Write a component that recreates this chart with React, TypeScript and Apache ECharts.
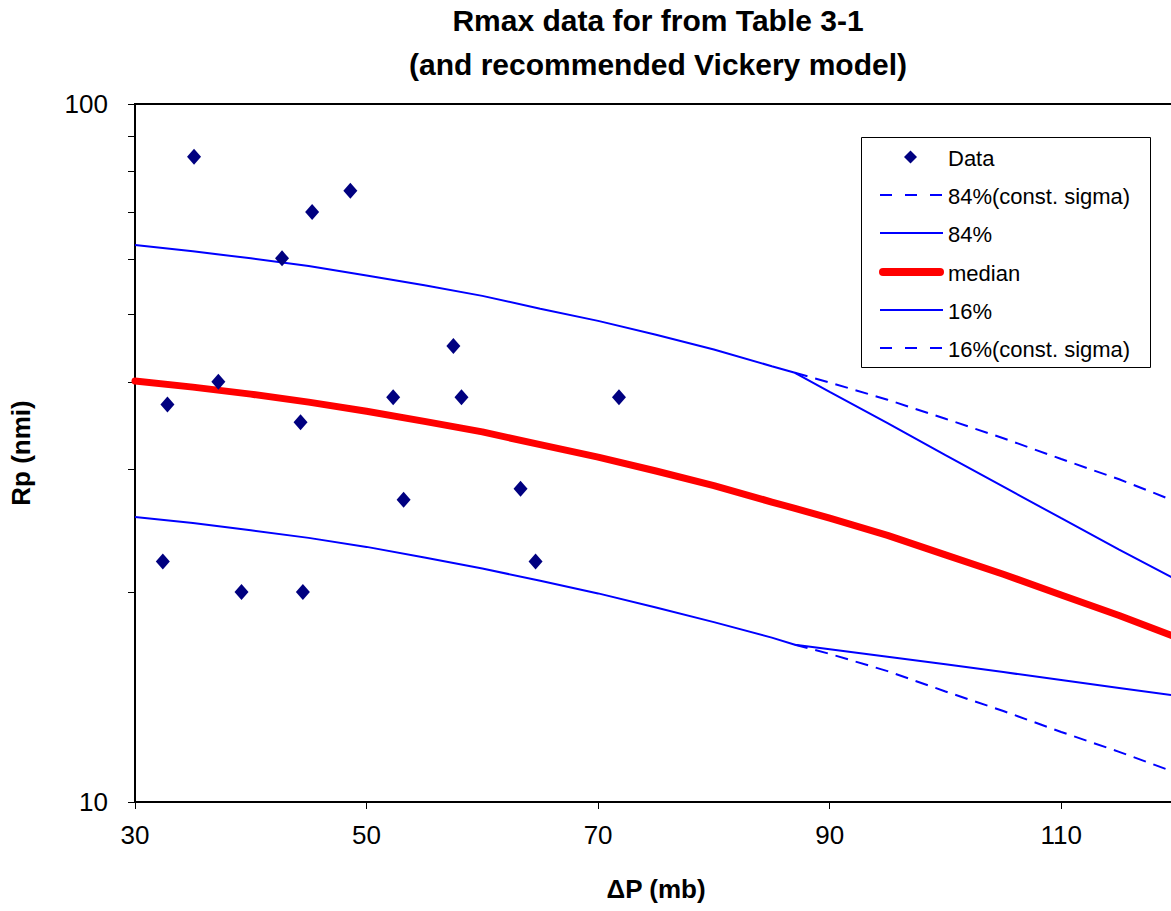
import React, { useEffect, useRef } from "react";
import * as echarts from "echarts";

const dataPoints: [number, number][] = [
  [35.1, 84.0], [48.6, 75.1], [45.3, 70.0], [42.7, 60.1], [57.5, 45.0],
  [37.2, 40.0], [32.8, 37.1], [52.3, 38.0], [58.2, 38.0], [71.8, 38.0],
  [44.3, 35.0], [53.2, 27.1], [63.3, 28.1], [32.4, 22.1], [64.6, 22.1],
  [39.2, 20.0], [44.5, 20.0],
];

const dpMain = [30, 35, 40, 45, 50, 55, 60, 65, 70, 75, 80, 85, 87, 90, 95, 100, 105, 110, 115, 120];
const median = [40.1, 39.3, 38.4, 37.4, 36.3, 35.1, 33.9, 32.5, 31.2, 29.8, 28.4, 26.9, 26.35, 25.5, 24.1, 22.6, 21.2, 19.8, 18.5, 17.2];
const upper84 = [62.8, 61.5, 60.1, 58.6, 56.8, 55.0, 53.1, 50.9, 48.9, 46.7, 44.5, 42.1, 41.2, 38.7, 34.9, 31.4, 28.3, 25.5, 23.0, 20.8];
const lower16 = [25.6, 25.1, 24.5, 23.9, 23.2, 22.4, 21.6, 20.75, 19.9, 19.0, 18.1, 17.2, 16.8, 16.55, 16.15, 15.75, 15.35, 14.95, 14.57, 14.2];

const dpConst = [87, 90, 95, 100, 105, 110, 115, 120];
const upper84Const = [41.2, 39.9, 37.7, 35.4, 33.2, 31.0, 29.0, 26.9];
const lower16Const = [16.8, 16.3, 15.4, 14.4, 13.5, 12.6, 11.8, 11.0];

const xTicks = [30, 50, 70, 90, 110];
const yLabels = [10, 100];
const yTicks = [10, 20, 30, 40, 50, 60, 70, 80, 90, 100];

const legendNames = ["Data", "84%(const. sigma)", "84%", "median", "16%", "16%(const. sigma)"];

const FONT = "'Liberation Sans', Arial, sans-serif";
const BLUE = "#0000FF";
const RED = "#FF0000";
const NAVY = "#000080";

const zip = (xs: number[], ys: number[]) => xs.map((x, i) => [x, ys[i]]);

function legendGraphics() {
  const left = 861, top = 137, w = 289, h = 230;
  const x0 = 880, x1 = 943, tx = 948;
  const rowY = (i: number) => 157 + i * 38.2;
  const els: any[] = [
    { type: "rect", shape: { x: left + 0.5, y: top + 0.5, width: w, height: h }, style: { fill: "#fff", stroke: "#000", lineWidth: 1 }, z: 100 },
  ];
  legendNames.forEach((name, i) => {
    const y = Math.round(rowY(i));
    if (i === 0) {
      const cx = (x0 + x1) / 2 - 1;
      els.push({
        type: "polygon",
        shape: { points: [[cx, y - 6.5], [cx + 6.5, y], [cx, y + 6.5], [cx - 6.5, y]] },
        style: { fill: NAVY },
        z: 101,
      });
    } else {
      const dashed = name.includes("const");
      const isMedian = name === "median";
      els.push({
        type: "line",
        shape: { x1: isMedian ? x0 + 3 : x0, y1: y, x2: isMedian ? x1 - 3 : x1, y2: y },
        style: {
          stroke: isMedian ? RED : BLUE,
          lineWidth: isMedian ? 8 : 2,
          lineDash: dashed ? [12, 13] : null,
          lineCap: isMedian ? "round" : "butt",
        },
        z: 101,
      });
    }
    els.push({
      type: "text",
      x: tx,
      y: y + 1,
      style: { text: name, fontFamily: FONT, fontSize: 22, fill: "#000", verticalAlign: "middle", align: "left" },
      z: 101,
    });
  });
  return els;
}

export default function App() {
  const ref = useRef<HTMLDivElement>(null);
  useEffect(() => {
    if (!ref.current) return;
    const chart = echarts.init(ref.current, undefined, { renderer: "svg" });
    chart.setOption({
      animation: false,
      backgroundColor: "#fff",
      title: {
        text: "Rmax data for from Table 3-1\n(and recommended Vickery model)",
        left: 653,
        top: -7,
        textAlign: "center",
        textStyle: { fontFamily: FONT, fontSize: 30, fontWeight: "bold", lineHeight: 44, color: "#000" },
      },
      graphic: legendGraphics(),
      grid: {
        left: 134,
        right: 23,
        top: 104,
        bottom: 109,
        show: true,
        borderColor: "#000",
        borderWidth: 2,
      },
      xAxis: {
        type: "value",
        min: 30,
        max: 120,
        interval: 20,
        name: "ΔP (mb)",
        nameLocation: "middle",
        nameGap: 74,
        nameTextStyle: { fontFamily: FONT, fontSize: 26, fontWeight: "bold", color: "#000" },
        axisLine: { lineStyle: { color: "#000", width: 2 } },
        axisTick: { show: true, length: 7, lineStyle: { color: "#000" }, customValues: xTicks },
        axisLabel: { fontFamily: FONT, fontSize: 26, color: "#000", margin: 20, customValues: xTicks },
        splitLine: { show: false },
      },
      yAxis: {
        type: "log",
        logBase: 10,
        min: 10,
        max: 100,
        name: "Rp (nmi)",
        nameLocation: "middle",
        nameRotate: 90,
        nameGap: 101,
        nameTextStyle: { fontFamily: FONT, fontSize: 26, fontWeight: "bold", color: "#000" },
        axisLine: { show: true, lineStyle: { color: "#000", width: 2 } },
        axisTick: { show: true, length: 7, lineStyle: { color: "#000" }, customValues: yTicks },
        axisLabel: { fontFamily: FONT, fontSize: 26, color: "#000", margin: 27, customValues: yLabels },
        splitLine: { show: false },
      },
      series: [
        {
          name: "84%(const. sigma)",
          type: "line",
          data: zip(dpConst, upper84Const),
          symbol: "none",
          lineStyle: { color: BLUE, width: 2, type: [13, 8] },
          z: 2,
        },
        {
          name: "16%(const. sigma)",
          type: "line",
          data: zip(dpConst, lower16Const),
          symbol: "none",
          lineStyle: { color: BLUE, width: 2, type: [13, 8] },
          z: 2,
        },
        {
          name: "84%",
          type: "line",
          data: zip(dpMain, upper84),
          symbol: "none",
          lineStyle: { color: BLUE, width: 2 },
          z: 3,
        },
        {
          name: "16%",
          type: "line",
          data: zip(dpMain, lower16),
          symbol: "none",
          lineStyle: { color: BLUE, width: 2 },
          z: 3,
        },
        {
          name: "median",
          type: "line",
          data: zip(dpMain, median),
          symbol: "none",
          lineStyle: { color: RED, width: 7, cap: "round", join: "round" },
          z: 4,
        },
        {
          name: "Data",
          type: "scatter",
          data: dataPoints,
          symbol: "diamond",
          symbolSize: [14, 16],
          itemStyle: { color: NAVY, opacity: 1 },
          z: 5,
        },
      ],
    });
    return () => chart.dispose();
  }, []);
  return (
    <div style={{ position: "absolute", left: 0, top: 0, width: 1171, height: 911, overflow: "hidden", background: "#fff" }}>
      <div ref={ref} style={{ width: 1200, height: 911 }} />
    </div>
  );
}
